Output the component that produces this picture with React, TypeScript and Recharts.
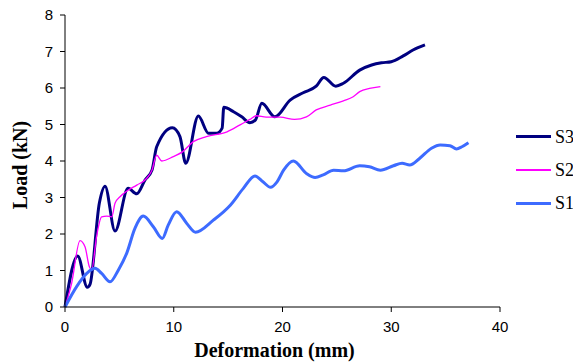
import React from 'react';
import { LineChart, Line, XAxis, YAxis } from 'recharts';

const s3X = [0, 1.17, 2.05, 2.3, 3.16, 3.68, 4.6, 5.8, 6.6, 7.36, 8.0, 8.43, 9.87, 10.57, 11.1, 12.26, 13.2, 13.95, 14.45, 14.6, 15.5, 16.25, 17.0, 17.5, 18.1, 19.3, 20.7, 21.9, 23.1, 23.8, 24.9, 25.6, 27.1, 28.2, 29.1, 30.0, 31.1, 32.0, 33.1];
const s3Y = [0, 1.4, 0.54, 0.62, 2.85, 3.31, 2.08, 3.25, 3.1, 3.48, 3.75, 4.39, 4.91, 4.67, 3.94, 5.23, 4.76, 4.76, 4.9, 5.47, 5.35, 5.21, 5.05, 5.12, 5.58, 5.21, 5.67, 5.87, 6.05, 6.29, 6.05, 6.13, 6.49, 6.63, 6.69, 6.72, 6.88, 7.04, 7.18];

const s2X = [0, 0.61, 1.38, 1.84, 2.24, 2.45, 2.9, 3.37, 3.83, 4.3, 4.6, 5.06, 5.8, 6.6, 7.5, 8.0, 8.43, 8.9, 9.96, 10.8, 11.8, 13.0, 14.9, 16.1, 17.0, 17.6, 18.5, 19.8, 21.1, 22.2, 23.1, 24.4, 25.6, 26.5, 27.1, 28.0, 29.0];
const s2Y = [0, 0.65, 1.82, 1.65, 1.1, 1.01, 1.93, 2.47, 2.49, 2.47, 2.84, 3.02, 3.2, 3.34, 3.52, 3.75, 4.16, 4.0, 4.12, 4.25, 4.53, 4.67, 4.8, 4.99, 5.14, 5.24, 5.2, 5.2, 5.14, 5.21, 5.4, 5.53, 5.65, 5.76, 5.9, 5.99, 6.04];

const s1X = [0, 1.07, 2.0, 2.76, 3.37, 4.14, 4.9, 5.67, 6.44, 7.2, 8.12, 8.95, 9.5, 10.27, 11.2, 12.0, 13.64, 15.2, 16.4, 17.47, 18.2, 18.9, 19.5, 20.1, 21.0, 22.2, 23.0, 23.75, 24.7, 25.6, 27.1, 28.0, 29.0, 30.2, 31.0, 31.7, 32.6, 33.7, 34.5, 35.4, 36.0, 36.5, 37.1];
const s1Y = [0, 0.56, 0.92, 1.06, 0.92, 0.69, 1.01, 1.47, 2.16, 2.49, 2.2, 1.88, 2.25, 2.61, 2.29, 2.05, 2.38, 2.79, 3.25, 3.59, 3.43, 3.28, 3.43, 3.75, 4.0, 3.66, 3.55, 3.62, 3.75, 3.73, 3.87, 3.84, 3.75, 3.87, 3.94, 3.89, 4.07, 4.35, 4.44, 4.42, 4.33, 4.39, 4.5];

const xTicks = [0, 10, 20, 30, 40];
const yTicks = [0, 1, 2, 3, 4, 5, 6, 7, 8];

const toRows = (xs: number[], ys: number[]) => xs.map((x, i) => ({ x, y: ys[i] }));

const series = [
  { name: 'S3', data: toRows(s3X, s3Y), color: '#000080', width: 3 },
  { name: 'S2', data: toRows(s2X, s2Y), color: '#FF00FF', width: 1.3 },
  { name: 'S1', data: toRows(s1X, s1Y), color: '#3D6BFF', width: 3 },
];

const titleStyle = { fill: '#000', fontFamily: '"Liberation Serif", "Times New Roman", serif', fontWeight: 'bold' as const, fontSize: 20 };

const XTitle = (props: any) => {
  const vb = props.viewBox || { x: 65, y: 307, width: 435, height: 57 };
  const cx = vb.x + vb.width / 2 - 8;
  return (
    <text x={cx} y={vb.y + 50} textAnchor="middle" style={titleStyle}>
      Deformation (mm)
    </text>
  );
};

const YTitle = (props: any) => {
  const vb = props.viewBox || { x: 0, y: 15, width: 65, height: 292 };
  const cy = vb.y + vb.height / 2 + 4;
  const bx = 27;
  return (
    <text x={bx} y={cy} transform={`rotate(-90, ${bx}, ${cy})`} textAnchor="middle" style={titleStyle}>
      Load (kN)
    </text>
  );
};

export default function App() {
  return (
    <div style={{ position: 'absolute', left: 0, top: 0, width: 573, height: 364, background: '#fff' }}>
      <LineChart width={573} height={364} margin={{ top: 15, right: 73, bottom: 0, left: 0 }}>
        <XAxis
          type="number"
          dataKey="x"
          domain={[0, 40]}
          ticks={xTicks}
          interval={0}
          allowDuplicatedCategory={false}
          height={57}
          stroke="#000"
          tickSize={5}
          tickMargin={9}
          tick={{ fill: '#000', fontFamily: '"Liberation Sans", Arial, sans-serif', fontSize: 15 }}
          label={<XTitle />}
        />
        <YAxis
          type="number"
          dataKey="y"
          domain={[0, 8]}
          ticks={yTicks}
          interval={0}
          width={65}
          stroke="#000"
          tickSize={5}
          tickMargin={7}
          tick={{ fill: '#000', fontFamily: '"Liberation Sans", Arial, sans-serif', fontSize: 15 }}
          label={<YTitle />}
        />
        {series.map((s) => (
          <Line
            key={s.name}
            data={s.data}
            dataKey="y"
            name={s.name}
            type="monotone"
            stroke={s.color}
            strokeWidth={s.width}
            dot={false}
            isAnimationActive={false}
          />
        ))}
      </LineChart>
      <div style={{ position: 'absolute', left: 516, top: 120, fontFamily: '"Liberation Serif", "Times New Roman", serif', fontSize: 18, color: '#000' }}>
        {series.map((s) => (
          <div key={s.name} style={{ display: 'flex', alignItems: 'center', height: 33.3 }}>
            <div style={{ width: 35, height: s.width === 3 ? 3 : 2, background: s.color, marginRight: 4 }} />
            <span style={{ lineHeight: '18px' }}>{s.name}</span>
          </div>
        ))}
      </div>
    </div>
  );
}
